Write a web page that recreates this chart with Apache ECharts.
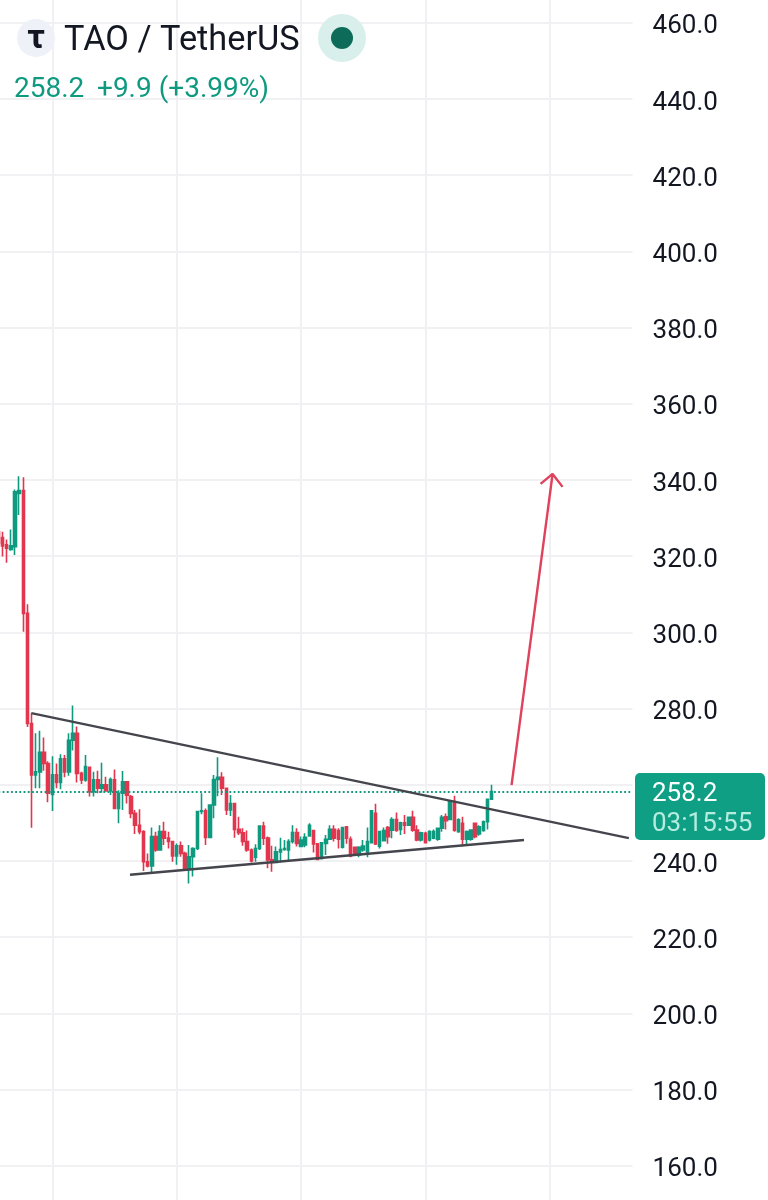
<!DOCTYPE html>
<html><head><meta charset="utf-8">
<style>html,body{margin:0;padding:0;background:#fff}#c{width:768px;height:1200px}</style>
<script src="https://cdn.jsdelivr.net/npm/echarts@6/dist/echarts.min.js"></script>
</head><body><div id="c"></div>
<script>
const opens=[326.4,324.9,323,321.8,322.5,336.5,337.2,305,276.1,262.6,263.4,268.5,265.6,257.5,262.6,260.6,266.8,263.4,271.7,273.5,263,261.3,264.6,258.2,261.3,259.1,260,258.4,261.3,253.8,257.8,260.8,256.9,252.5,249.4,247.7,239.8,238.7,246.4,242.9,247.7,246,245.1,241.3,244,242,238.1,241.1,243.3,253,253.2,246.2,254.7,261.4,262,259.1,253.4,255.1,248.3,247.4,245.1,242.9,241,243.3,249.2,246,240.3,239.6,242.4,243,242.9,245.1,247.5,243.8,244.2,246.6,248,244.5,240.7,244.6,245.7,248.3,248,243.6,249,245.7,243.6,241.6,242.9,242.4,244.8,252.5,243.9,245.3,248.8,248.1,250.9,248.3,250,249.4,251.5,248.1,245.5,247.3,245.5,246,245.7,248.6,251.6,250.9,255.6,247.7,249.9,245.7,245.7,249.9,247.1,248,250.3,256.2];
const closes=[323.4,322.7,322.1,322.7,336.9,337.2,305,276.1,262.6,263.4,268.5,265.6,257.8,262.6,260.6,266.8,263.4,271.7,273.5,263,261.3,264.8,258.2,261.3,259.1,260,258.4,261.4,253.8,257.8,260.8,257.3,252.5,249.4,247.7,239.8,238.7,246.4,242.9,247.7,246,245.1,241.3,244,242,238.1,241.1,243.3,253,253.2,246.2,254.7,261.4,262,259.1,253.4,255.1,248.3,247.4,245.1,242.9,240,243.3,249.2,246,240.3,239.6,242.4,243,243.3,245.1,247.5,244.6,245.5,246.2,249.4,244.5,240.4,244.8,245.7,248.3,246,245.7,248.8,246,241.3,242,243.6,243.9,245.1,253.2,244.5,247.7,248,246.4,250.9,248,250,249.4,251.5,248.1,245.5,247.4,244.8,247.7,247.7,248.6,251.5,250.6,255.6,248.1,250.8,245.7,247.7,248.1,246.4,249,250.3,256.2,258.2];
const lows=[322.9,319.9,318.3,321.4,320.3,330.8,300.2,275.2,248.7,259.1,259.1,263.7,255.4,253.1,259.1,258.8,262,262.4,269,260.6,260.2,260.8,256.9,256.9,257.8,257.9,258.2,257.3,253.8,249.9,253.4,255.1,251.2,247.1,247,237.4,238.3,236.8,242.4,242.9,244.2,243.3,239.8,239,241.1,237.8,234.1,235.9,242.9,252.3,244.2,246,251.2,257,257.3,252.1,251.8,246.1,246.8,244,242.4,239.6,239.8,242.9,244.2,238.1,237.2,239.4,239.6,242.7,240,244.6,243.8,243.6,243.6,246.6,242.2,240.3,240.4,241.6,245.7,245.1,243.3,243.3,244.5,241,241.3,241,242.4,241,244.6,244.2,243.3,245.1,244.5,246,247.7,246.8,247.1,249.2,247.7,245.2,245.1,244.6,245.1,245.7,245.3,247.7,248.3,250.9,247.7,247.4,243.9,244.2,245.3,246,246.6,247.7,248.3,256];
const highs=[330.8,326.4,324.4,327,337.5,341,340.7,307.4,278.8,273.5,274.2,272.4,266.2,267.5,265.6,268,267.8,273.5,280.8,275.3,263.4,267.8,264.8,263.4,263.7,265.8,262.1,261.9,264,258.6,263.6,260.8,257.3,253.4,253.6,248.1,242,248.8,247.7,249.4,250.3,247.7,245.3,244.6,245.1,242.4,244.2,243.6,253.2,257.8,253.8,254.7,262.6,267.2,263.3,259.1,257.3,255.3,251.6,248.6,248,243.3,244.4,249.4,250.3,246.4,244,243.8,246.1,245.5,245.7,249.4,248.6,246.4,247.3,249.9,248,244.5,244.8,246.8,249.4,249.4,248.6,248.8,249.2,246.4,243.8,243.9,245.5,248.8,253.4,255,247.7,248.8,249.2,251.5,252.7,250.3,252.1,251.6,253.2,249.4,247.7,247.7,248.1,248.3,248.8,252.1,252.5,255.8,257.1,251.2,251.6,248,248.3,250.1,249.4,250.6,256.2,260];

const lastPrice=258.2;
const priceTicksMin=140, priceTicksMax=480, priceStep=20;
const upperTrend=[[7.94,278.8],[152.1,246.0]];
const lowerTrend=[[31.75,236.4],[126.8,245.5]];
const arrowShaft=[[123.8,259.9],[133.7,341.6]];
const arrowHead=[[130.8,339.0],[133.7,341.6],[136.1,338.2]];
const slotCount=154;
const categories=Array.from({length:slotCount},(_,i)=>String(i));

const UP='#0f9a80', DOWN='#e2364f', GRID='#f1f1f3';
const ohlc=opens.map((o,i)=>[o,closes[i],lows[i],highs[i]]);
const overlay=(data,color,width,z)=>({type:'line',xAxisIndex:1,yAxisIndex:0,data,symbol:'none',silent:true,z,
  lineStyle:{color,width},animation:false,clip:false});

const chart=echarts.init(document.getElementById('c'),null,{renderer:'canvas'});
chart.setOption({
  animation:false,
  backgroundColor:'#ffffff',
  grid:{left:-1.6,width:634.2,top:-53.4,height:1295.4,containLabel:false,outerBoundsMode:'none'},
  xAxis:[
    {type:'category',data:categories,boundaryGap:false,axisLine:{show:false},axisTick:{show:false},axisLabel:{show:false},
     splitLine:{show:true,interval:(i)=>(i-13)%30===0,lineStyle:{color:GRID,width:2}}},
    {type:'value',min:0,max:slotCount-1,show:false,splitLine:{show:false}}
  ],
  yAxis:[{type:'value',position:'right',min:priceTicksMin,max:priceTicksMax,interval:priceStep,scale:true,
    axisLine:{show:false},axisTick:{show:false},
    axisLabel:{margin:20,color:'#131722',fontFamily:'Roboto',fontSize:26,verticalAlign:'top',lineHeight:8,formatter:v=>v.toFixed(1)},
    splitLine:{show:true,lineStyle:{color:GRID,width:2}}}],
  series:[
    {type:'candlestick',data:ohlc,barWidth:3,z:3,silent:true,
     itemStyle:{color:UP,color0:DOWN,borderColor:UP,borderColor0:DOWN,borderWidth:1.6},
     markLine:{silent:true,symbol:'none',animation:false,label:{show:false},
       lineStyle:{color:UP,width:1.8,type:[1.8,2.4]},data:[{yAxis:lastPrice}]}},
    overlay(upperTrend,'#45464d',2.4,5),
    overlay(lowerTrend,'#45464d',2.6,5),
    overlay(arrowShaft,'#e0415c',2.4,5),
    overlay(arrowHead,'#e0415c',2.4,5)
  ],
  graphic:[
    {type:'circle',shape:{cx:36,cy:38,r:19},style:{fill:'#eef1f8'},z:20},
    {type:'text',x:36,y:39,style:{text:'τ',font:'bold 34px Roboto',fill:'#131722',align:'center',verticalAlign:'middle'},z:21},
    {type:'text',x:64,y:41,style:{text:'TAO / TetherUS',font:'34.3px Roboto',fill:'#131722',align:'left',verticalAlign:'middle'},z:21},
    {type:'circle',shape:{cx:342,cy:38,r:24},style:{fill:'#d9efeb'},z:20},
    {type:'circle',shape:{cx:342,cy:38,r:11},style:{fill:'#0d6b5a'},z:21},
    {type:'text',x:14,y:90,style:{text:'258.2',font:'28px Roboto',fill:UP,align:'left',verticalAlign:'middle'},z:21},
    {type:'text',x:97,y:90,style:{text:'+9.9 (+3.99%)',font:'28px Roboto',fill:UP,align:'left',verticalAlign:'middle'},z:21},
    {type:'rect',shape:{x:635,y:773,width:130,height:67,r:5},style:{fill:'#0f9f84'},z:20},
    {type:'text',x:652,y:794,style:{text:'258.2',font:'26px Roboto',fill:'#ffffff',align:'left',verticalAlign:'middle'},z:21},
    {type:'text',x:652,y:824,style:{text:'03:15:55',font:'26px Roboto',fill:'#b5ecdf',align:'left',verticalAlign:'middle'},z:21}
  ]
});
</script></body></html>
